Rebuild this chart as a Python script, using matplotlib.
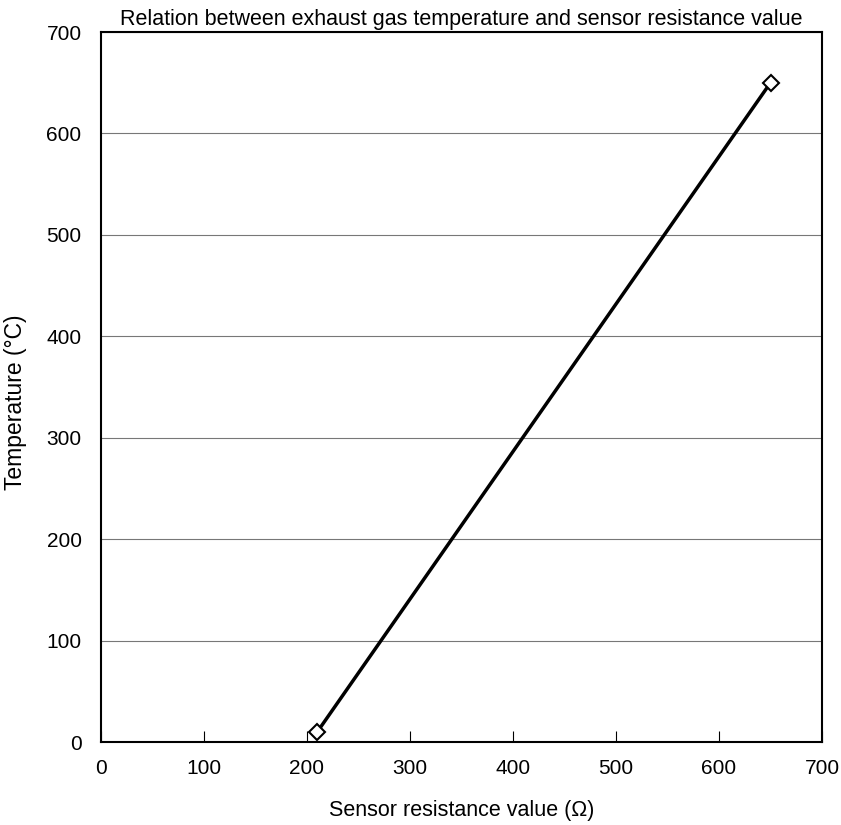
import matplotlib
matplotlib.use("Agg")
import matplotlib.pyplot as plt

resistance = [210, 650]
temperature = [10, 650]
x_ticks = [0, 100, 200, 300, 400, 500, 600, 700]
y_ticks = [0, 100, 200, 300, 400, 500, 600, 700]

plt.rcParams['font.family'] = ['Liberation Sans', 'DejaVu Sans']
fig = plt.figure(figsize=(8.41, 8.25), dpi=100)
ax = fig.add_axes([101/841, 1-742/825, (822-101)/841, (742-32)/825])

ax.plot(resistance, temperature, color='black', linewidth=2.5, marker='D',
        markersize=8, markerfacecolor='white', markeredgecolor='black', markeredgewidth=1.5, zorder=3)
ax.set_xlim(0, 700)
ax.set_ylim(0, 700)
ax.set_xticks(x_ticks)
ax.set_yticks(y_ticks)
ax.yaxis.grid(True, color='#777777', linewidth=0.8)
ax.set_axisbelow(True)
ax.tick_params(axis='x', direction='in', length=8, labelsize=15, pad=12)
ax.tick_params(axis='y', direction='in', length=0, labelsize=15, pad=14)
for s in ax.spines.values():
    s.set_linewidth(1.5)
ax.set_title('Relation between exhaust gas temperature and sensor resistance value', fontsize=15.5, pad=5)
ax.set_xlabel('Sensor resistance value (\u03a9)', fontsize=15.5, labelpad=16)
ax.set_ylabel('Temperature (\u00b0C)', fontsize=16.5)
ax.yaxis.set_label_coords(-0.103, 0.479)
fig.savefig('out.png', dpi=100)
